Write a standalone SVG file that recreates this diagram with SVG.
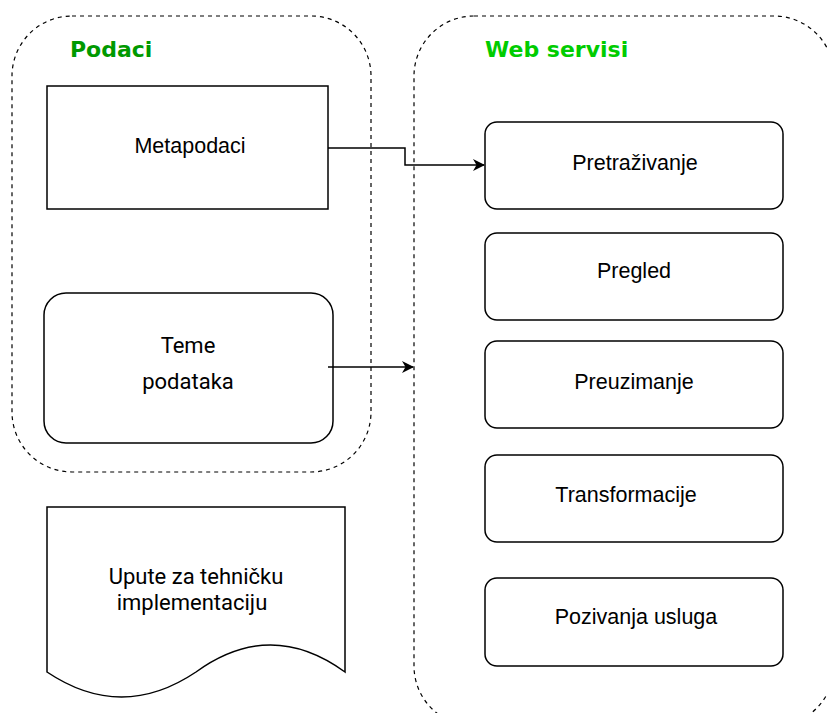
<svg xmlns="http://www.w3.org/2000/svg" width="827" height="713" viewBox="0 0 827 713">
<style>
.cont{fill:none;stroke:#000;stroke-width:1.2;stroke-dasharray:4 4;}
.box{fill:#fff;stroke:#000;stroke-width:1.5;}
.lbl{font-family:"Liberation Sans",Arial,sans-serif;font-size:21.5px;fill:#000;text-anchor:middle;}
.rb{font-family:Roboto,"Liberation Sans",sans-serif;font-size:22px;fill:#000;text-anchor:middle;}
.title{font-family:"DejaVu Sans",Verdana,sans-serif;font-size:22px;font-weight:bold;}
.edge{fill:none;stroke:#000;stroke-width:1.5;}
</style>
<defs>
<marker id="arr" markerWidth="12" markerHeight="12" refX="11" refY="6" orient="auto" markerUnits="userSpaceOnUse">
<path d="M0,0 L12,6 L0,12 L3.5,6 Z" fill="#000"/>
</marker>
</defs>
<rect width="827" height="713" fill="#fff"/>
<g id="podaci">
<rect class="cont" x="12" y="16" width="359" height="456" rx="60" ry="60"/>
<text class="title" x="70" y="57" fill="#009900">Podaci</text>
</g>
<g id="web-servisi">
<rect class="cont" x="414" y="16" width="420" height="710" rx="60" ry="60"/>
<text class="title" x="485" y="57" fill="#00cc00">Web servisi</text>
</g>
<g id="metapodaci">
<rect class="box" x="47" y="86" width="281" height="123"/>
<text class="lbl" x="190" y="153">Metapodaci</text>
</g>
<g id="teme-podataka">
<rect class="box" x="44" y="293" width="289" height="150" rx="22" ry="22"/>
<text class="rb" x="188" y="353">Teme</text>
<text class="rb" x="188" y="389">podataka</text>
</g>
<g id="upute">
<path class="box" d="M47,507 L345,507 L345,672 Q270.5,618 196,672 Q121.5,722 47,672 Z"/>
<text class="rb" x="196" y="584">Upute za tehničku</text>
<text class="rb" x="192" y="610">implementaciju</text>
</g>
<g id="pretrazivanje">
<rect class="box" x="485" y="122" width="298" height="87" rx="12" ry="12"/>
<text class="lbl" x="635" y="170">Pretraživanje</text>
</g>
<g id="pregled">
<rect class="box" x="485" y="233" width="298" height="87" rx="12" ry="12"/>
<text class="lbl" x="634" y="278">Pregled</text>
</g>
<g id="preuzimanje">
<rect class="box" x="485" y="341" width="298" height="87" rx="12" ry="12"/>
<text class="lbl" x="634" y="389">Preuzimanje</text>
</g>
<g id="transformacije">
<rect class="box" x="485" y="455" width="298" height="87" rx="12" ry="12"/>
<text class="lbl" x="626" y="502">Transformacije</text>
</g>
<g id="pozivanja-usluga">
<rect class="box" x="485" y="578" width="298" height="88" rx="12" ry="12"/>
<text class="lbl" x="636" y="624">Pozivanja usluga</text>
</g>
<g id="connectors">
<path class="edge" d="M328,148 L405,148 L405,165 L484,165" marker-end="url(#arr)"/>
<path class="edge" d="M328,367 L413,367" marker-end="url(#arr)"/>
</g>
</svg>
